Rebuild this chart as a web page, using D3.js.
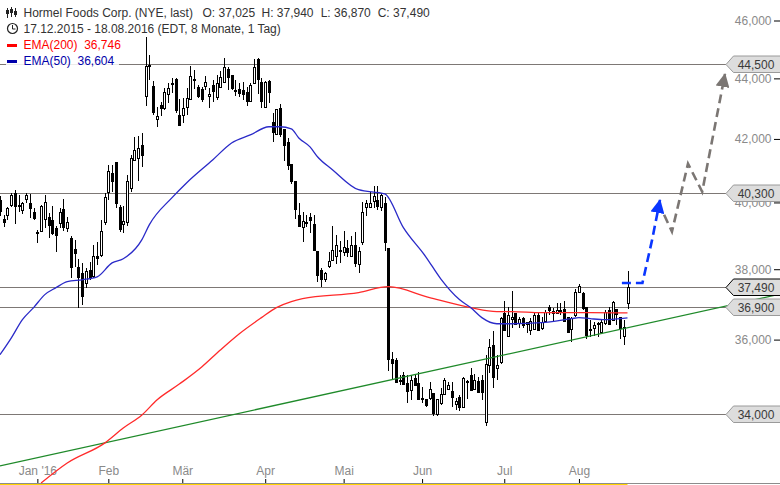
<!DOCTYPE html>
<html>

<head>
  <meta charset="utf-8">
  <title>Hormel Foods Corp.</title>
  <script src="https://cdnjs.cloudflare.com/ajax/libs/d3/7.8.5/d3.min.js"></script>
  <style>
    html, body { margin: 0; padding: 0; background: #fff; overflow: hidden; }
    svg { display: block; }
    text { font-family: "Liberation Sans", Arial, sans-serif; font-size: 12px; }
  </style>
</head>

<body>
  <script>
    // Kurse, ein Wert pro Handelstag (17.12.2015 - 18.08.2016)
    const opens = [
      40076, 39503, 39622, 39922, 40298, 39922, 39772, 40110, 39982, 39712,
      39114, 39144, 39503, 39563, 39473, 39233, 39383, 39802, 39233, 38934,
      38605, 38065, 37892, 37608, 37977, 37806, 38395, 38425, 39413, 40330,
      40926, 41272, 39862, 39353, 39413, 40455, 41335, 41400, 41810, 43418,
      44430, 43750, 42658, 43121, 43022, 43484, 43815, 43980, 42790, 42790,
      43055, 43319, 43990, 43716, 43650, 43750, 43418, 43782, 43385, 43716,
      43880, 44320, 44120, 43617, 43650, 43617, 43550, 43253, 43848, 44670,
      43880, 43055, 43914, 42559, 42162, 43022, 42328, 41900, 41210, 40674,
      39622, 39263, 39383, 39563, 39353, 38545, 37977, 37720, 38095, 38275,
      38395, 38575, 38515, 38635, 38395, 38725, 38155, 38814, 39862, 39862,
      40045, 40076, 39862, 39982, 38635, 35476, 35450, 34913, 35047, 34832,
      34644, 34966, 34832, 34430, 34403, 34430, 34564, 34000, 34295, 34537,
      34671, 34617, 34268, 34456, 34188, 34886, 35047, 34671, 34886, 34913,
      33785, 35315, 35852, 35235, 35396, 36754, 36100, 36583, 36754, 36470,
      36612, 36441, 36270, 36300, 36697, 36328, 36527, 36925, 36754, 36754,
      36840, 36868, 36640, 36300, 36697, 37350, 37323, 36925, 36300, 36328,
      36470, 36214, 36470, 36840, 36555, 36868, 36640, 36100, 37025
    ];
    const closes = [
      39712, 39383, 39832, 40235, 39862, 39862, 39982, 40235, 39802, 39503,
      39100, 39892, 40010, 39293, 39054, 38994, 39712, 39233, 39413, 38035,
      38455, 37749, 37210, 37950, 37720, 38395, 38305, 39144, 40172, 40990,
      40643, 39952, 39174, 39443, 40674, 41400, 41650, 41713, 41460, 44430,
      44465, 42856, 42757, 42988, 43550, 43683, 43848, 42922, 42427, 43022,
      43352, 44085, 43970, 43385, 43286, 43880, 43484, 43550, 43848, 44050,
      44390, 44015, 43650, 43550, 43484, 43450, 43220, 43782, 44390, 43947,
      43220, 43880, 43517, 42195, 42988, 42129, 41776, 41146, 40643, 39772,
      39263, 39443, 39390, 39443, 38545, 37806, 37693, 37892, 38245, 38575,
      38725, 38545, 38665, 38485, 38725, 38155, 38545, 39712, 39982, 39982,
      40204, 39862, 40235, 38784, 35450, 35342, 34832, 34859, 34778, 34590,
      34913, 34751, 34376, 34376, 34215, 34671, 34000, 34403, 34537, 34913,
      34778, 34430, 34350, 34161, 34966, 34880, 34617, 34913, 34564, 34564,
      35342, 35799, 34966, 35315, 36612, 36243, 36697, 36640, 36413, 36583,
      36385, 36498, 36527, 36697, 36243, 36498, 36783, 36811, 36811, 36840,
      36754, 36498, 36186, 36612, 37350, 37522, 36868, 36100, 36270, 36413,
      36460, 36498, 36783, 36413, 37067, 36697, 36300, 36356, 37490
    ];
    const highs = [
      40200, 39622, 39862, 40298, 40392, 40235, 40010, 40298, 40266, 39832,
      39174, 39922, 40235, 39682, 39892, 39293, 39832, 40110, 39563, 38994,
      38874, 38305, 38185, 38035, 38215, 38725, 38814, 39473, 40298, 41178,
      41178, 41272, 39922, 39892, 40864, 41493, 42063, 42096, 42195, 45430,
      44810, 43914, 43055, 43220, 43683, 43848, 44015, 44015, 43319, 43352,
      43683, 44430, 44290, 43782, 43716, 44085, 43683, 43947, 44120, 44255,
      44700, 44390, 44120, 43947, 43848, 43880, 43716, 43848, 44670, 44700,
      44015, 43914, 43947, 42856, 42988, 43154, 42328, 42030, 41210, 40674,
      39982, 39712, 39622, 39682, 39622, 38545, 38035, 37920, 38515, 39293,
      39024, 38844, 39144, 38874, 38994, 39114, 38665, 40010, 40076, 40330,
      40517, 40517, 40298, 40172, 38635, 35664, 35503, 35047, 35127, 35047,
      35047, 35047, 35127, 34725, 34403, 34859, 34564, 34403, 34698, 34966,
      34859, 34859, 34430, 34510, 34993, 34913, 35235, 35074, 34993, 35047,
      35584, 36014, 36243, 35584, 36640, 37095, 36925, 37380, 36754, 36640,
      36640, 36498, 36612, 36754, 36783, 36640, 36840, 36980, 36896, 37038,
      37038, 37095, 36640, 36640, 37437, 37580, 37350, 36925, 36555, 36498,
      36498, 36555, 36840, 36925, 37095, 36868, 36640, 36555, 37940
    ];
    const lows = [
      39590, 39263, 39473, 39862, 39353, 39712, 39652, 39982, 39533, 39473,
      38784, 39114, 39233, 38934, 39024, 38515, 39233, 39144, 39114, 37749,
      38065, 36896, 36980, 37465, 37693, 37749, 38125, 38365, 39323, 40076,
      40330, 39832, 39114, 39084, 39293, 40330, 41304, 40674, 41115, 43088,
      43947, 42790, 42394, 42757, 42955, 43187, 43517, 42856, 42427, 42526,
      42790, 43286, 43650, 43352, 43220, 43617, 43022, 43220, 43286, 43683,
      43848, 43617, 43617, 43418, 43385, 43286, 43088, 43220, 43815, 43484,
      43022, 43022, 43187, 41900, 42162, 42063, 41304, 41020, 40580, 39503,
      39263, 38814, 39263, 39084, 38545, 37636, 37494, 37636, 38035, 38275,
      38155, 38185, 38395, 38365, 38365, 38065, 37892, 38725, 39593, 39832,
      39832, 39772, 39742, 38545, 35154, 34913, 34832, 34778, 34778, 34295,
      34376, 34751, 34376, 34295, 34188, 34376, 33946, 33946, 34242, 34510,
      34644, 34188, 34107, 34080, 34188, 34403, 34617, 34671, 34564, 34376,
      33678, 35100, 34698, 34913, 35342, 36243, 36072, 36328, 36413, 36328,
      36328, 36186, 36129, 36300, 36243, 36270, 36498, 36697, 36498, 36754,
      36697, 36498, 36186, 35933, 36640, 37323, 36840, 36014, 36072, 36100,
      36072, 36186, 36413, 36413, 36527, 36413, 36014, 35852, 36870
    ];

    // EMA-Linien: Handelstag und Kurs
    const ema50Days = [0, 3, 6, 9, 12, 15, 18, 22, 26, 30, 33, 38, 40, 46, 50, 57, 62, 67, 72, 75, 78, 80, 83, 85, 89, 96, 103, 108, 114, 118, 123, 126, 129, 133, 137, 145, 153, 155, 158, 162, 168];
    const ema50Values = [35584, 36040, 36555, 36896, 37265, 37465, 37636, 37693, 37778, 38185, 38305, 38874, 39323, 40140, 40612, 41335, 41870, 42129, 42394, 42394, 42328, 42030, 41743, 41430, 41020, 40392, 40266, 39233, 38365, 37720, 37124, 36896, 36612, 36441, 36441, 36470, 36583, 36612, 36583, 36555, 36604];
    const ema200Days = [11, 18, 28, 33, 38, 42, 48, 54, 59, 64, 70, 74, 78, 81, 96, 104, 115, 126, 133, 137, 145, 158, 168];
    const ema200Values = [32243, 32743, 33248, 33635, 33975, 34368, 34790, 35250, 35714, 36156, 36612, 36896, 37067, 37150, 37323, 37494, 37180, 36896, 36783, 36783, 36754, 36754, 36746];

    // Trendlinie
    const trendDays = [0, 209];
    const trendValues = [32670, 37283];

    // Horizontale Marken
    const levels = [44500, 40300, 37490, 36900, 34000];
    const lastLevel = 37490;

    // Prognosepfeile
    const blueDays = [166.5, 172, 174.6, 176.7];
    const blueValues = [37600, 37600, 38874, 40076];
    const grayDays = [177.8, 179.9, 184.2, 188, 194.1];
    const grayValues = [39622, 39114, 41210, 40330, 44150];

    // Achsen
    const priceTicks = [46000, 44000, 42000, 40000, 38000, 36000];
    const monthDays = [10, 29, 48.8, 71, 92, 113, 135, 155];
    const monthLabels = ["Jan '16", "Feb", "Mär", "Apr", "Mai", "Jun", "Jul", "Aug"];

    // Kopfzeilen
    const title = "Hormel Foods Corp. (NYE, last)";
    const quoteLabels = ["O: 37,025", "H: 37,940", "L: 36,870", "C: 37,490"];
    const range = "17.12.2015 - 18.08.2016 (EDT, 8 Monate, 1 Tag)";
    const emaLabels = ["EMA(200)  36,746", "EMA(50)  36,604"];

    const w = 780;
    const h = 485;
    const fmt = d3.format(",d");

    const x = d3.scaleLinear().domain([0, 168]).range([0, 627.5]);
    const y = d3.scaleLog().domain([34000, 46000]).range([414, 20.5]);

    const svg = d3.select("body").append("svg")
      .attr("width", w)
      .attr("height", h);

    const defs = svg.append("defs");
    function arrowMarker(id, color) {
      defs.append("marker")
        .attr("id", id)
        .attr("viewBox", "0 0 14 14")
        .attr("refX", 13)
        .attr("refY", 7)
        .attr("markerWidth", 14)
        .attr("markerHeight", 14)
        .attr("markerUnits", "userSpaceOnUse")
        .attr("orient", "auto")
        .append("path")
        .attr("d", "M0,0 L14,7 L0,14 Z")
        .attr("fill", color);
    }
    arrowMarker("head-blue", "#0a36ff");
    arrowMarker("head-gray", "#7b7673");

    // Preisachse
    const priceAxis = d3.axisRight(y)
      .tickValues(priceTicks)
      .tickFormat(fmt)
      .tickSize(0);
    const axisR = svg.append("g").attr("transform", "translate(" + w + ",0)").call(priceAxis);
    axisR.select(".domain").remove();
    axisR.selectAll("text")
      .attr("x", -8.5)
      .attr("text-anchor", "end")
      .attr("fill", "#8a8a8a");
    axisR.selectAll(".tick").append("rect")
      .attr("x", -6).attr("y", -0.5)
      .attr("width", 6).attr("height", 1)
      .attr("fill", "#000");

    // Zeitachse
    svg.append("rect").attr("x", 0).attr("y", 483).attr("width", w).attr("height", 1).attr("fill", "#8c8c8c");
    svg.append("rect").attr("x", 0).attr("y", 484).attr("width", x(168)).attr("height", 1).attr("fill", "#ffd400");
    const timeAxis = d3.axisBottom(x)
      .tickValues(monthDays)
      .tickFormat((d, i) => monthLabels[i])
      .tickSize(0);
    const axisB = svg.append("g").attr("transform", "translate(0,479)").call(timeAxis);
    axisB.select(".domain").remove();
    axisB.selectAll("text")
      .attr("y", -13)
      .attr("dy", "0.71em")
      .attr("fill", "#8a8a8a");
    axisB.selectAll(".tick").append("rect")
      .attr("x", -0.5).attr("y", 0)
      .attr("width", 1).attr("height", 4)
      .attr("fill", "#000");

    // Horizontale Linien
    svg.append("g").selectAll("line")
      .data(levels)
      .enter()
      .append("line")
      .attr("x1", 0)
      .attr("x2", 726)
      .attr("y1", d => Math.round(y(d)) + 0.5)
      .attr("y2", d => Math.round(y(d)) + 0.5)
      .attr("stroke", "#7d7875")
      .attr("stroke-width", 1);

    // Kerzen
    const days = d3.range(opens.length);
    const candles = svg.append("g").attr("shape-rendering", "crispEdges");
    candles.selectAll(".wick")
      .data(days)
      .enter()
      .append("rect")
      .attr("class", "wick")
      .attr("x", d => Math.round(x(d)))
      .attr("y", d => Math.round(y(highs[d])))
      .attr("width", 1)
      .attr("height", d => Math.max(1, Math.round(y(lows[d])) - Math.round(y(highs[d]))))
      .attr("fill", "#000");
    candles.selectAll(".body")
      .data(days)
      .enter()
      .append("rect")
      .attr("class", "body")
      .attr("x", d => Math.round(x(d)) - (closes[d] > opens[d] ? 0.5 : 1))
      .attr("y", d => Math.round(y(Math.max(opens[d], closes[d]))) + (closes[d] > opens[d] ? 0.5 : 0))
      .attr("width", d => closes[d] > opens[d] ? 2 : 3)
      .attr("height", d => Math.max(closes[d] > opens[d] ? 1 : 2, Math.round(y(Math.min(opens[d], closes[d]))) - Math.round(y(Math.max(opens[d], closes[d])))))
      .attr("fill", d => closes[d] > opens[d] ? "#fff" : "#000")
      .attr("stroke", d => closes[d] > opens[d] ? "#000" : "none")
      .attr("stroke-width", 1);

    // Linien
    const line = d3.line().x(d => x(d[0])).y(d => y(d[1]));

    svg.append("path")
      .attr("d", line(d3.zip(trendDays, trendValues)))
      .attr("fill", "none")
      .attr("stroke", "#1f8a2a")
      .attr("stroke-width", 1.3);

    const smooth = d3.line().x(d => x(d[0])).y(d => y(d[1])).curve(d3.curveMonotoneX);
    svg.append("path")
      .attr("d", smooth(d3.zip(ema200Days, ema200Values)))
      .attr("fill", "none")
      .attr("stroke", "#ff2a2a")
      .attr("stroke-width", 1.3);
    svg.append("path")
      .attr("d", smooth(d3.zip(ema50Days, ema50Values)))
      .attr("fill", "none")
      .attr("stroke", "#2a2ac8")
      .attr("stroke-width", 1.3);

    // Prognose
    svg.append("path")
      .attr("d", line(d3.zip(blueDays, blueValues)))
      .attr("fill", "none")
      .attr("stroke", "#0a36ff")
      .attr("stroke-width", 2.6)
      .attr("stroke-dasharray", "9,5")
      .attr("marker-end", "url(#head-blue)");
    svg.append("path")
      .attr("d", line(d3.zip(grayDays, grayValues)))
      .attr("fill", "none")
      .attr("stroke", "#7b7673")
      .attr("stroke-width", 2.6)
      .attr("stroke-dasharray", "9,5")
      .attr("marker-end", "url(#head-gray)");

    // Kursmarken rechts
    const tags = svg.append("g").selectAll("g")
      .data(levels)
      .enter()
      .append("g")
      .attr("transform", d => "translate(0," + Math.round(y(d)) + ")");
    tags.append("path")
      .attr("d", "M726,0.5 L733.5,-8 L781,-8 L781,8.5 L733.5,8.5 Z")
      .attr("fill", "#dddddd")
      .attr("stroke", d => d === lastLevel ? "#000" : "#9a9a9a")
      .attr("stroke-width", 1);
    tags.append("text")
      .attr("x", 756)
      .attr("y", 4.5)
      .attr("text-anchor", "middle")
      .attr("fill", "#3a3a3a")
      .text(fmt);

    // Legende, weisser Grund ueber der Linie
    svg.append("rect")
      .attr("x", 6).attr("y", 53)
      .attr("width", 113).attr("height", 14)
      .attr("fill", "#fff")
      .attr("fill-opacity", 0.85);

    const head = svg.append("g").attr("fill", "#333");
    head.append("text").attr("x", 23.5).attr("y", 17).text(title);
    head.selectAll(".q")
      .data(quoteLabels)
      .enter()
      .append("text")
      .attr("class", "q")
      .attr("x", (d, i) => [202.5, 261.5, 320.7, 377.7][i])
      .attr("y", 17)
      .text(d => d);
    head.append("text").attr("x", 23.5).attr("y", 33).text(range);
    svg.append("text").attr("x", 23.5).attr("y", 49).attr("fill", "#ff0000").text(emaLabels[0]).style("white-space", "pre");
    svg.append("text").attr("x", 23.5).attr("y", 65).attr("fill", "#0000aa").text(emaLabels[1]).style("white-space", "pre");

    // Symbole links
    svg.append("rect").attr("x", 7).attr("y", 44).attr("width", 10).attr("height", 3).attr("fill", "#ff0000");
    svg.append("rect").attr("x", 7).attr("y", 60).attr("width", 10).attr("height", 3).attr("fill", "#0000aa");
    svg.append("circle").attr("cx", 12.5).attr("cy", 28.5).attr("r", 5).attr("fill", "none").attr("stroke", "#222").attr("stroke-width", 1.2);
    svg.append("path").attr("d", "M12.5,25 V29 H15.5").attr("fill", "none").attr("stroke", "#222").attr("stroke-width", 1);
    const icon = svg.append("g").attr("shape-rendering", "crispEdges");
    [[7, 10, 14, 8, 18], [11, 9, 13, 7, 17], [15, 11, 15, 8, 17]].forEach(c => {
      icon.append("rect").attr("x", c[0]).attr("y", c[3]).attr("width", 1).attr("height", c[4] - c[3]).attr("fill", "#222");
      icon.append("rect").attr("x", c[0] - 1).attr("y", c[1]).attr("width", 3).attr("height", c[2] - c[1]).attr("fill", "#222");
    });
  </script>
</body>

</html>
